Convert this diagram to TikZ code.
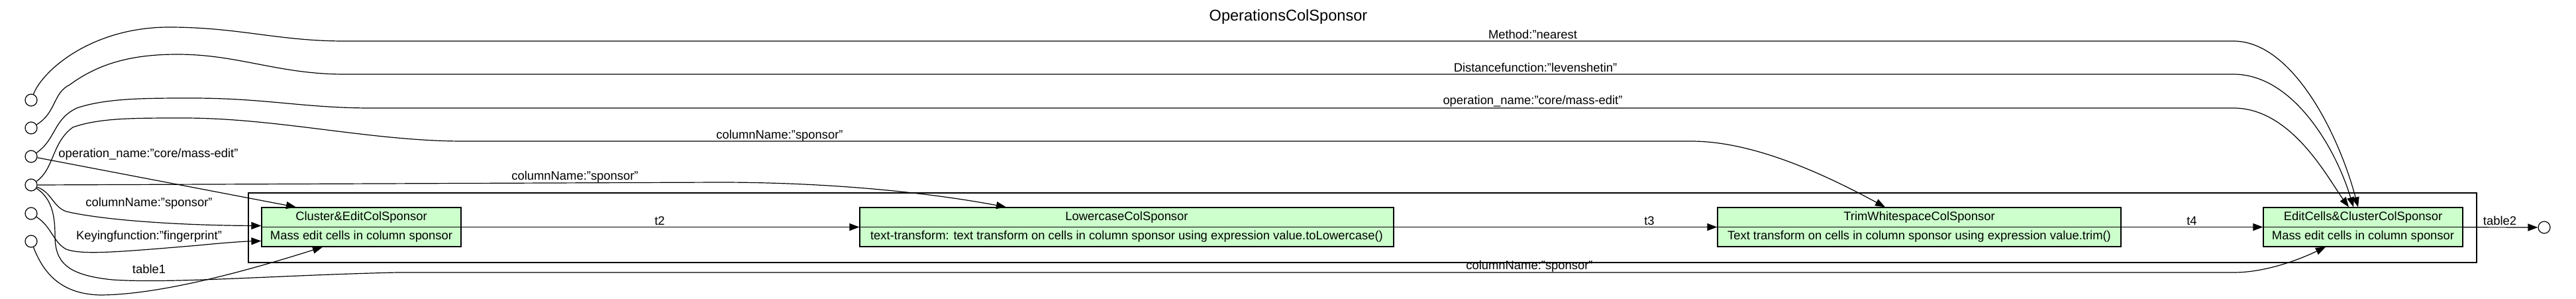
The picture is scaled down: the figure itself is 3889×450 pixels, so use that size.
\documentclass[tikz,border=0pt]{standalone}
\usepackage{fontspec}
\setmainfont{Liberation Sans}
\usetikzlibrary{arrows.meta,calc}
\definecolor{opgreen}{RGB}{204,255,204}
\begin{document}
\begin{tikzpicture}[x=0.5pt,y=-0.5pt,
  lbl/.style={inner sep=0pt, font=\fontsize{9.2}{11}\selectfont},
  ttl/.style={inner sep=0pt, font=\fontsize{11.8}{14}\selectfont},
  opbox/.style={draw=black, line width=0.6pt, fill=opgreen, inner sep=0pt},
  port/.style={circle, draw=black, line width=0.6pt, minimum size=9pt, inner sep=0pt},
  conn/.style={draw=black, line width=0.6pt},
  arr/.style={conn, -{Triangle[length=7.5pt,width=5.5pt]}},
  clusterbox/.style={draw=black, line width=1.4pt, inner sep=0pt}]
\useasboundingbox (0,0) rectangle (3889,450);

% title
\node[ttl] (title) at (1945,25) {OperationsColSponsor};

% cluster
\node[clusterbox, minimum width=1682pt, minimum height=52.5pt] (cl) at (2057,343.5) {};

% operation nodes
\node[opbox, minimum width=150.5pt, minimum height=29.5pt] (n1) at (545.5,342.5) {};
\node[opbox, minimum width=403pt, minimum height=29.5pt] (n2) at (1701,342.5) {};
\node[opbox, minimum width=304.5pt, minimum height=29.5pt] (n3) at (2897.5,342.5) {};
\node[opbox, minimum width=150.5pt, minimum height=29.5pt] (n4) at (3567.5,342.5) {};
\foreach \n in {n1,n2,n3,n4} {\draw[conn] (\n.west) -- (\n.east);}
\node[lbl] (n1a) at (545.5,327.5) {Cluster\&EditColSponsor};
\node[lbl] (n1b) at (545.5,357) {Mass edit cells in column sponsor};
\node[lbl] (n2a) at (1701,327.5) {LowercaseColSponsor};
\node[lbl] (n2b) at (1701,357) {text-transform: text transform on cells in column sponsor using expression value.toLowercase()};
\node[lbl] (n3a) at (2897.5,327.5) {TrimWhitespaceColSponsor};
\node[lbl] (n3b) at (2897.5,357) {Text transform on cells in column sponsor using expression value.trim()};
\node[lbl] (n4a) at (3567.5,327.5) {EditCells\&ClusterColSponsor};
\node[lbl] (n4b) at (3567.5,357) {Mass edit cells in column sponsor};

% input / output ports
\node[port] (i1) at (47,151) {};
\node[port] (i2) at (47,193) {};
\node[port] (i3) at (47,236) {};
\node[port] (i4) at (47,279) {};
\node[port] (i5) at (47,322) {};
\node[port] (i6) at (47,364) {};
\node[port] (out) at (3841,343) {};

% long top edges into EditCells
\draw[arr] (i1) .. controls (65,105) and (140,41) .. (255,41)
  .. controls (360,41) and (420,62) .. (520,62) -- (3372,62)
  .. controls (3460,62) and (3530,200) .. ($(n4.north)+(-7.5,0)$);
\draw[arr] (i2) .. controls (85,170) and (80,140) .. (105,128)
  .. controls (150,95) and (200,82) .. (268,82)
  .. controls (360,82) and (420,112) .. (520,112) -- (3372,112)
  .. controls (3460,112) and (3525,220) .. ($(n4.north)+(-14.5,0)$);
\draw[arr] (i3) .. controls (85,210) and (80,180) .. (116,163)
  .. controls (160,148) and (220,148) .. (290,148)
  .. controls (400,148) and (460,163) .. (560,163) -- (3372,163)
  .. controls (3460,163) and (3515,270) .. ($(n4.north)+(-21.5,0)$);

% columnName to Trim
\draw[arr] (i4) .. controls (82,255) and (78,215) .. (110,192)
  .. controls (150,178) and (200,178) .. (277,178)
  .. controls (420,178) and (560,213) .. (700,213) -- (2553,213)
  .. controls (2640,213) and (2740,255) .. ($(n3.north)+(-51.5,0)$);

% columnName to Lowercase
\draw[arr] (i4.east) -- (1086,275)
  .. controls (1250,275) and (1400,290) .. ($(n2.north)+(-182,0)$);

% operation_name to Cluster&Edit
\draw[arr] (i3) -- ($(n1.north)+(-98.5,0)$);

% columnName to Cluster&Edit
\draw[arr] (i4) .. controls (78,290) and (80,312) .. (100,319)
  .. controls (160,333) and (280,340) .. ($(n1.west)+(0,-2)$);

% Keyingfunction to Cluster&Edit
\draw[arr] (i5) .. controls (78,342) and (80,365) .. (100,376)
  .. controls (125,385) and (180,380) .. (300,370)
  .. controls (340,366) and (370,364) .. ($(n1.west)+(0,21)$);

% table1 to Cluster&Edit
\draw[arr] (i6) .. controls (65,410) and (90,443) .. (150,445)
  .. controls (250,445) and (400,400) .. ($(n1.south)+(-58.5,0)$);

% columnName (bottom) to EditCells
\draw[arr] (i4) .. controls (80,300) and (83,330) .. (83,355)
  .. controls (83,395) and (100,415) .. (170,422)
  .. controls (260,428) and (420,415) .. (600,411) -- (3372,411)
  .. controls (3420,411) and (3470,392) .. ($(n4.south)+(-56.5,0)$);

% chain edges
\draw[arr] (n1) -- (n2);
\draw[arr] (n2) -- (n3);
\draw[arr] (n3) -- (n4);
\draw[arr] (n4) -- (out);

% edge labels
\node[lbl] (lm) at (2314,52) {Method:"nearest};
\node[lbl] (ld) at (2318,102) {Distancefunction:"levenshetin"};
\node[lbl] (lo) at (2314,153) {operation\_name:"core/mass-edit"};
\node[lbl] (lct) at (1177,205) {columnName:"sponsor"};
\node[lbl] (lcl) at (868,267) {columnName:"sponsor"};
\node[lbl] (lo2) at (224,233) {operation\_name:"core/mass-edit"};
\node[lbl] (lc1) at (225,307) {columnName:"sponsor"};
\node[lbl] (lk) at (225,357) {Keyingfunction:"fingerprint"};
\node[lbl] (lt1) at (225,406) {table1};
\node[lbl] (lcb) at (2309,402) {columnName:"sponsor"};
\node[lbl] (lt2) at (996,333) {t2};
\node[lbl] (lt3) at (2490,333) {t3};
\node[lbl] (lt4) at (3309,333) {t4};
\node[lbl] (ltab2) at (3774,333) {table2};
\end{tikzpicture}
\end{document}
